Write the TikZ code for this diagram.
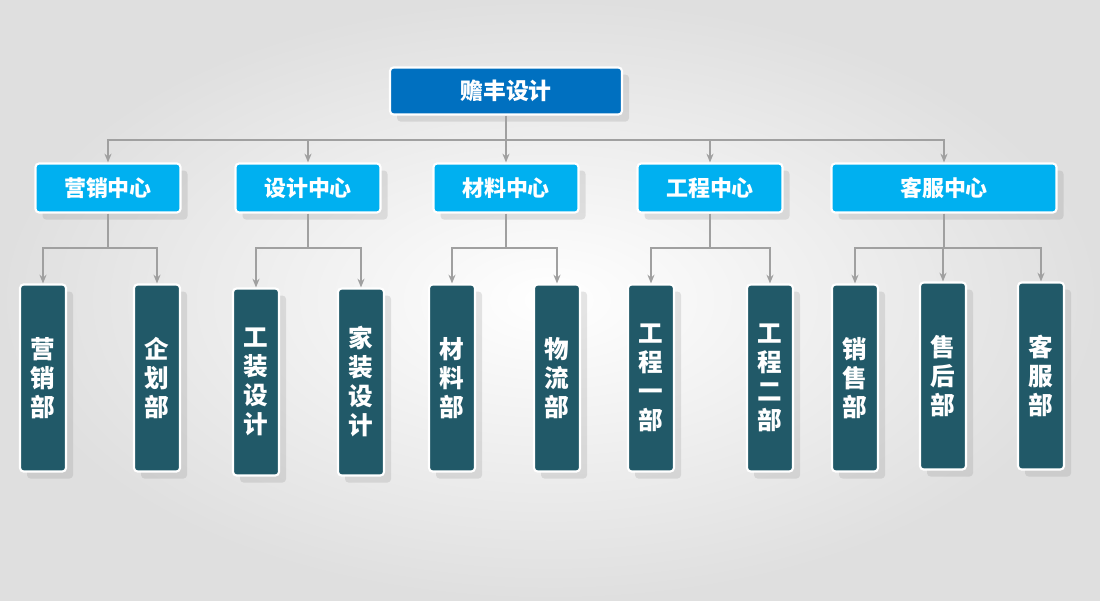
\documentclass[tikz,border=0pt]{standalone}
\usepackage{fontspec}
\setmainfont{Noto Sans CJK SC}
\usetikzlibrary{positioning, arrows.meta, shadows}
\definecolor{TopColor}{RGB}{0,112,192}
\definecolor{CenterColor}{RGB}{0,176,240}
\definecolor{DeptColor}{RGB}{33,89,104}
\definecolor{LineColor}{RGB}{160,160,160}
\tikzset{
  box/.style={rectangle, rounded corners=2pt, draw=white, line width=1.2pt, text=white,
    font=\bfseries, drop shadow={shadow xshift=4pt, shadow yshift=-4pt, opacity=0.2}},
  topbox/.style={box, fill=TopColor, minimum width=4.64cm, minimum height=0.94cm, font=\bfseries\fontsize{13}{15}\selectfont},
  centerbox/.style={box, fill=CenterColor, minimum width=2.9cm, minimum height=0.98cm, font=\bfseries\fontsize{12.5}{15}\selectfont},
  deptbox/.style={box, fill=DeptColor, minimum width=0.92cm, minimum height=3.74cm, align=center,
    font=\bfseries\fontsize{14}{16.5}\selectfont},
  link/.style={LineColor, line width=0.9pt},
  arrow/.style={link, -{Stealth[length=5pt,width=4pt]}}
}
\begin{document}
\begin{tikzpicture}[x=0.02cm, y=-0.02cm]
  % background
  \shade[inner color=white, outer color=gray!25] (0,0) rectangle (1100,600);
  \useasboundingbox (0,0) rectangle (1100,600);

  % top
  \node[topbox] (top) at (506,91) {赡丰设计};

  % centers
  \node[centerbox] (c1) at (108,188) {营销中心};
  \node[centerbox] (c2) at (308,188) {设计中心};
  \node[centerbox] (c3) at (506,188) {材料中心};
  \node[centerbox] (c4) at (710,188) {工程中心};
  \node[centerbox, minimum width=4.5cm] (c5) at (944,188) {客服中心};

  % departments
  \node[deptbox] (d1) at (43,378) {营\\销\\部};
  \node[deptbox] (d2) at (157,378) {企\\划\\部};
  \node[deptbox] (d3) at (256,382) {工\\装\\设\\计};
  \node[deptbox] (d4) at (361,382) {家\\装\\设\\计};
  \node[deptbox] (d5) at (452,378) {材\\料\\部};
  \node[deptbox] (d6) at (557,378) {物\\流\\部};
  \node[deptbox] (d7) at (651,378) {工\\程\\一\\部};
  \node[deptbox] (d8) at (770,378) {工\\程\\二\\部};
  \node[deptbox] (d9) at (855,378) {销\\售\\部};
  \node[deptbox] (d10) at (943,376) {售\\后\\部};
  \node[deptbox] (d11) at (1041,376) {客\\服\\部};

  % bus points
  \coordinate (b0) at (506,140);
  \coordinate (b1) at (108,248);
  \coordinate (b2) at (308,248);
  \coordinate (b3) at (506,248);
  \coordinate (b4) at (710,248);
  \coordinate (b5) at (944,248);

  % connectors
  \draw[link] (top) -- (b0);
  \foreach \c in {c1,c2,c3,c4,c5}
    \draw[arrow] (b0) -| (\c);
  \draw[link] (c1) -- (b1);
  \draw[link] (c2) -- (b2);
  \draw[link] (c3) -- (b3);
  \draw[link] (c4) -- (b4);
  \draw[link] (c5) -- (b5);
  \foreach \d in {d1,d2} \draw[arrow] (b1) -| (\d);
  \foreach \d in {d3,d4} \draw[arrow] (b2) -| (\d);
  \foreach \d in {d5,d6} \draw[arrow] (b3) -| (\d);
  \foreach \d in {d7,d8} \draw[arrow] (b4) -| (\d);
  \foreach \d in {d9,d10,d11} \draw[arrow] (b5) -| (\d);
\end{tikzpicture}
\end{document}
